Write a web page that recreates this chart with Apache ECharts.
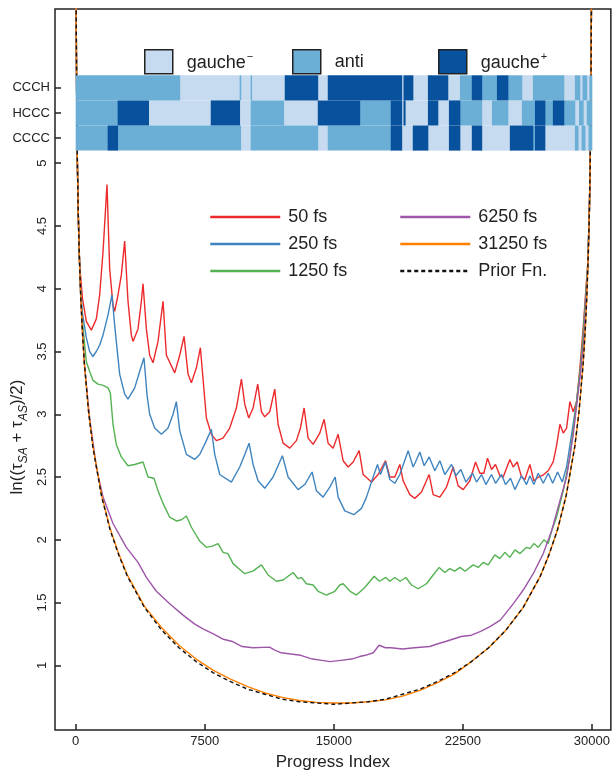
<!DOCTYPE html>
<html>
<head>
<meta charset="utf-8">
<script src="https://cdn.jsdelivr.net/npm/echarts@6/dist/echarts.min.js"></script>
<style>
  html, body { margin: 0; padding: 0; background: #fff; }
  #chart { width: 613px; height: 776px; }
</style>
</head>
<body>
<div id="chart"></div>
<script>
// tick labels
var xTicks = [0, 7500, 15000, 22500, 30000];
var yTicks = [1, 1.5, 2, 2.5, 3, 3.5, 4, 4.5, 5];
var rowNames = ['CCCC', 'HCCC', 'CCCH'];
var stateNames = ['gauche-', 'anti', 'gauche+'];

// dihedral states along the progress index (0 = gauche-, 1 = anti, 2 = gauche+)
var ccccCuts = [0, 1860, 2440, 9590, 10170, 14070, 14650, 18310, 18950, 19590, 20470, 21690, 22330, 23020, 23600, 25230, 26570, 26690, 27270, 29010, 29200, 29400, 29600, 29800, 30000];
var ccccStates = [1, 2, 1, 0, 1, 0, 1, 2, 0, 2, 0, 2, 0, 2, 0, 2, 1, 2, 0, 1, 0, 1, 0, 1];
var hcccCuts = [0, 2440, 4240, 7850, 9530, 10170, 12090, 14070, 16510, 18310, 18950, 19050, 19150, 20470, 21050, 21690, 22330, 23600, 24190, 25120, 25930, 26690, 27270, 27730, 28370, 29010, 29250, 29500, 29700, 30000];
var hcccStates = [1, 2, 0, 2, 0, 1, 0, 2, 1, 2, 0, 2, 0, 2, 0, 2, 1, 0, 1, 0, 1, 2, 1, 2, 1, 0, 1, 0, 1];
var ccchCuts = [0, 6050, 9530, 9600, 10170, 10230, 12150, 14070, 14650, 18950, 19050, 19600, 20470, 21630, 22330, 23020, 23600, 24480, 25120, 25930, 26570, 28370, 29010, 29300, 29450, 29700, 29850, 30000];
var ccchStates = [1, 0, 1, 0, 1, 0, 2, 0, 2, 0, 2, 0, 2, 0, 1, 2, 1, 2, 1, 0, 1, 0, 1, 0, 1, 0, 1];

// cut functions [progress index, ln value]
var fs50 = [[10,7.31],[30,6.22],[60,5.52],[100,5.01],[150,4.61],[233,4.19],[400,3.92],[620,3.74],[911,3.67],[1202,3.76],[1395,3.95],[1589,4.29],[1822,4.83],[1977,4.16],[2170,3.87],[2267,3.82],[2461,3.95],[2655,4.11],[2849,4.38],[3042,3.90],[3236,3.63],[3333,3.58],[3624,3.68],[3818,3.90],[3915,4.04],[4109,3.68],[4302,3.47],[4496,3.41],[4787,3.58],[5078,3.90],[5272,3.47],[5756,3.33],[6047,3.47],[6299,3.62],[6531,3.32],[6725,3.25],[7016,3.37],[7248,3.53],[7597,2.97],[7888,2.84],[8179,2.79],[8566,2.81],[8953,2.89],[9341,3.05],[9632,3.28],[9826,3.08],[10058,2.97],[10310,3.05],[10581,3.24],[10795,3.02],[10988,2.98],[11279,3.02],[11570,3.20],[11764,2.92],[12054,2.77],[12442,2.73],[12829,2.79],[13062,2.89],[13275,3.05],[13508,2.81],[13799,2.76],[14186,2.85],[14438,2.96],[14670,2.77],[14961,2.73],[15252,2.84],[15543,2.63],[15834,2.58],[16124,2.62],[16473,2.71],[16706,2.52],[17191,2.46],[17578,2.52],[18004,2.63],[18256,2.50],[18547,2.50],[18837,2.60],[19031,2.47],[19419,2.36],[19709,2.33],[20097,2.38],[20542,2.52],[20775,2.36],[21163,2.34],[21550,2.42],[21938,2.58],[22228,2.43],[22519,2.40],[22907,2.47],[23236,2.62],[23488,2.53],[23721,2.53],[23934,2.65],[24167,2.56],[24400,2.60],[24651,2.51],[24845,2.50],[25233,2.64],[25427,2.58],[25659,2.62],[25911,2.50],[26105,2.48],[26395,2.60],[26628,2.47],[26900,2.50],[27200,2.52],[27461,2.55],[27750,2.62],[27946,2.75],[28140,2.92],[28334,2.85],[28528,2.89],[28721,3.10],[28915,3.02],[29109,3.10],[29302,3.37],[29500,3.70],[29650,4.00],[29750,4.18],[29850,4.61],[29900,5.01],[29940,5.52],[29970,6.22],[29990,7.31]];
var fs250 = [[10,7.31],[30,6.22],[60,5.52],[100,5.01],[150,4.61],[200,4.32],[260,4.05],[400,3.80],[620,3.61],[814,3.50],[1000,3.46],[1200,3.50],[1395,3.55],[1589,3.63],[1880,3.79],[2110,3.95],[2267,3.71],[2558,3.32],[2849,3.16],[3042,3.12],[3430,3.21],[3720,3.34],[3970,3.45],[4150,3.15],[4302,3.00],[4593,2.89],[4981,2.84],[5369,2.89],[5659,3.00],[5853,3.10],[6047,2.87],[6434,2.68],[6919,2.64],[7209,2.68],[7597,2.79],[7888,2.88],[8082,2.68],[8373,2.52],[9050,2.46],[9535,2.58],[9826,2.68],[10077,2.77],[10310,2.60],[10601,2.47],[10988,2.41],[11473,2.50],[12015,2.67],[12345,2.50],[12926,2.40],[13314,2.44],[13740,2.54],[13992,2.39],[14380,2.34],[14768,2.42],[15080,2.50],[15252,2.34],[15640,2.23],[16163,2.20],[16609,2.25],[16900,2.34],[17288,2.50],[17540,2.60],[17714,2.52],[18004,2.62],[18256,2.48],[18547,2.45],[18837,2.52],[19321,2.71],[19612,2.58],[19750,2.62],[20000,2.70],[20252,2.59],[20542,2.66],[20872,2.55],[21163,2.63],[21454,2.52],[21841,2.60],[22093,2.51],[22384,2.56],[22675,2.46],[23062,2.53],[23294,2.46],[23585,2.52],[23837,2.44],[24167,2.52],[24400,2.45],[24748,2.52],[24980,2.44],[25270,2.49],[25524,2.40],[25911,2.51],[26200,2.44],[26395,2.51],[26628,2.44],[26880,2.53],[27171,2.45],[27461,2.53],[27720,2.45],[28005,2.54],[28276,2.46],[28528,2.58],[28818,2.84],[29109,3.10],[29302,3.32],[29500,3.62],[29650,3.95],[29750,4.15],[29850,4.61],[29900,5.01],[29940,5.52],[29970,6.22],[29990,7.31]];
var fs1250 = [[10,7.31],[30,6.22],[60,5.52],[100,5.01],[150,4.61],[200,4.32],[300,3.92],[420,3.70],[620,3.42],[814,3.34],[1008,3.27],[1298,3.24],[1600,3.23],[1880,3.21],[2015,3.17],[2170,2.92],[2364,2.76],[2655,2.66],[3042,2.59],[3430,2.60],[3915,2.62],[4205,2.50],[4554,2.49],[4787,2.39],[5078,2.29],[5466,2.18],[5853,2.15],[6150,2.16],[6434,2.19],[6725,2.10],[7209,1.99],[7597,1.94],[7950,1.95],[8276,1.97],[8566,1.90],[8850,1.89],[9147,1.81],[9826,1.73],[10300,1.75],[10795,1.80],[11182,1.72],[11667,1.67],[12054,1.68],[12635,1.74],[12926,1.69],[13120,1.70],[13411,1.65],[13800,1.64],[14089,1.59],[14574,1.56],[15059,1.59],[15349,1.64],[15543,1.65],[15950,1.59],[16318,1.56],[16800,1.62],[17346,1.71],[17650,1.67],[18024,1.70],[18250,1.67],[18547,1.70],[18850,1.67],[19186,1.70],[19520,1.64],[19903,1.61],[20385,1.65],[20775,1.72],[21124,1.78],[21450,1.74],[21740,1.77],[22030,1.75],[22330,1.78],[22620,1.75],[23101,1.80],[23390,1.78],[23682,1.82],[23970,1.80],[24361,1.88],[24650,1.85],[24942,1.90],[25230,1.86],[25524,1.92],[25820,1.89],[26202,1.94],[26400,1.93],[26628,1.97],[26880,1.94],[27209,2.00],[27461,1.97],[27655,2.07],[27946,2.18],[28334,2.39],[28721,2.66],[29109,3.10],[29400,3.45],[29600,3.85],[29750,4.18],[29850,4.61],[29900,5.01],[29940,5.52],[29970,6.22],[29990,7.31]];
var fs6250 = [[10,7.31],[30,6.22],[60,5.52],[100,5.01],[150,4.61],[200,4.32],[300,3.92],[400,3.66],[523,3.37],[814,2.97],[1202,2.58],[1589,2.34],[2170,2.13],[2946,1.94],[3624,1.82],[4109,1.70],[4690,1.59],[5466,1.49],[6241,1.40],[6900,1.33],[7400,1.29],[8000,1.25],[8535,1.21],[9100,1.19],[9674,1.15],[10300,1.14],[11262,1.145],[11600,1.12],[11948,1.10],[12500,1.09],[13082,1.08],[13762,1.05],[14300,1.04],[14785,1.03],[15400,1.04],[16035,1.05],[16500,1.07],[16832,1.08],[17300,1.10],[17628,1.16],[18000,1.14],[18314,1.14],[19000,1.13],[19675,1.14],[20582,1.15],[21000,1.17],[21495,1.19],[22401,1.23],[23000,1.24],[23535,1.27],[24100,1.31],[24675,1.36],[25427,1.49],[26008,1.60],[26589,1.73],[27171,1.89],[27655,2.07],[28140,2.31],[28528,2.50],[28915,2.84],[29302,3.29],[29500,3.55],[29650,3.90],[29750,4.15],[29850,4.61],[29900,5.01],[29940,5.52],[29970,6.22],[29990,7.31]];
var fs31250 = [[10,7.31],[30,6.22],[60,5.52],[100,5.01],[150,4.61],[200,4.32],[300,3.92],[400,3.64],[500,3.42],[750,3.02],[1000,2.75],[1500,2.36],[2000,2.09],[2500,1.89],[3000,1.72],[4000,1.47],[5000,1.30],[6000,1.16],[7000,1.05],[8000,0.96],[9000,0.89],[10000,0.83],[11000,0.78],[12000,0.745],[13000,0.72],[14000,0.705],[15000,0.70],[16000,0.70],[17000,0.71],[18000,0.725],[19000,0.755],[20000,0.80],[21000,0.86],[22000,0.93],[23000,1.03],[24000,1.14],[25000,1.28],[26000,1.46],[27000,1.71],[27500,1.88],[28000,2.08],[28500,2.35],[29000,2.74],[29250,3.02],[29500,3.42],[29600,3.64],[29700,3.92],[29800,4.32],[29850,4.61],[29900,5.01],[29940,5.52],[29970,6.22],[29990,7.31]];
var priorFn = [[5,8.00],[10,7.31],[30,6.22],[60,5.52],[100,5.01],[150,4.61],[200,4.32],[300,3.92],[400,3.64],[500,3.42],[750,3.02],[1000,2.74],[1500,2.35],[2000,2.08],[2500,1.88],[3000,1.71],[4000,1.46],[5000,1.28],[6000,1.14],[7000,1.03],[8000,0.94],[9000,0.87],[10000,0.81],[11000,0.77],[12000,0.73],[13000,0.71],[14000,0.70],[15000,0.69],[16000,0.70],[17000,0.71],[18000,0.73],[19000,0.77],[20000,0.81],[21000,0.87],[22000,0.94],[23000,1.03],[24000,1.14],[25000,1.28],[26000,1.46],[27000,1.71],[27500,1.88],[28000,2.08],[28500,2.35],[29000,2.74],[29250,3.02],[29500,3.42],[29600,3.64],[29700,3.92],[29800,4.32],[29850,4.61],[29900,5.01],[29940,5.52],[29970,6.22],[29990,7.31],[29995,8.00]];

var FONT = 'Liberation Sans, Arial, sans-serif';
var stateColors = ['#c6dbef', '#6baed6', '#08519c'];
var lineColors = ['#ec2a2c', '#3f84bf', '#55b252', '#9d56a8', '#ff7f00', '#111111'];

var chart = echarts.init(document.getElementById('chart'));

// segments per state: [start, end, rowCenter]
var rows = [[ccccCuts, ccccStates], [hcccCuts, hcccStates], [ccchCuts, ccchStates]];
var rowCenters = [5.2, 5.4, 5.6];
var segs = [[], [], []];
rows.forEach(function (r, ri) {
  var cuts = r[0], st = r[1];
  for (var i = 0; i < st.length; i++) {
    segs[st[i]].push([cuts[i], cuts[i + 1], rowCenters[ri]]);
  }
});

function renderSeg(params, api) {
  var c = api.value(2);
  var p0 = api.coord([api.value(0), c - 0.1]);
  var p1 = api.coord([api.value(1), c + 0.1]);
  return {
    type: 'rect',
    shape: { x: p0[0], y: p1[1], width: p1[0] - p0[0] + 0.4, height: p0[1] - p1[1] },
    style: { fill: api.visual('color') }
  };
}

var series = [];
var lineData = [fs50, fs250, fs1250, fs6250, fs31250, priorFn];
var lineNames = ['50 fs', '250 fs', '1250 fs', '6250 fs', '31250 fs', 'Prior Fn.'];
lineData.forEach(function (d, i) {
  series.push({
    name: lineNames[i],
    type: 'line',
    data: d,
    symbol: 'none',
    clip: true,
    z: i === 5 ? 4 : 3,
    lineStyle: { color: lineColors[i], width: i === 5 ? 1.4 : 1.4, type: i === 5 ? [4, 3] : 'solid' },
    itemStyle: { color: lineColors[i] }
  });
});
segs.forEach(function (s, k) {
  series.push({
    name: stateNames[k],
    type: 'custom',
    renderItem: renderSeg,
    data: s,
    encode: { x: [0, 1], y: 2 },
    z: 6,
    itemStyle: { color: stateColors[k] }
  });
});

function boxLegend(name, left) {
  return {
    data: [name], left: left, top: 44, icon: 'rect', itemWidth: 28, itemHeight: 24,
    itemStyle: { borderColor: '#222', borderWidth: 1.5 },
    formatter: function (n) {
      if (n === 'gauche-') return '{a|gauche}{s|−}';
      if (n === 'gauche+') return '{a|gauche}{s|+}';
      return '{a|' + n + '}';
    },
    textStyle: {
      fontFamily: FONT, fontSize: 18, color: '#222', padding: [0, 0, 0, 9],
      rich: {
        a: { fontFamily: FONT, fontSize: 18, color: '#222', verticalAlign: 'bottom' },
        s: { fontFamily: FONT, fontSize: 11, color: '#222', verticalAlign: 'bottom', padding: [0, 0, 9, 1] }
      }
    }
  };
}
function lineLegend(names, left) {
  return {
    data: names, left: left, top: 203, orient: 'vertical', itemWidth: 70, itemHeight: 14, itemGap: 9,
    lineStyle: { width: 2.5 },
    itemStyle: { opacity: 0 },
    textStyle: { fontFamily: FONT, fontSize: 18, color: '#222', padding: [0, 0, 0, 3] }
  };
}

var option = {
  animation: false,
  backgroundColor: '#fff',
  grid: { left: 55, right: 2, top: 9, bottom: 42, show: true, borderColor: '#222', borderWidth: 1.5, backgroundColor: 'transparent' },
  legend: [
    boxLegend(stateNames[0], 139),
    boxLegend(stateNames[1], 287),
    boxLegend(stateNames[2], 433),
    lineLegend(lineNames.slice(0, 3), 204),
    lineLegend(lineNames.slice(3), 394)
  ],
  xAxis: {
    type: 'value', min: -1200, max: 31100,
    name: 'Progress Index', nameLocation: 'middle', nameGap: 24,
    nameTextStyle: { fontFamily: FONT, fontSize: 17, color: '#222' },
    axisLine: { show: false, onZero: false },
    splitLine: { show: false },
    axisTick: { inside: true, length: 6, customValues: xTicks, lineStyle: { color: '#222', width: 1.5 } },
    axisLabel: { customValues: xTicks, fontFamily: FONT, fontSize: 13, color: '#222', margin: 5, formatter: function (v) { return String(v); } }
  },
  yAxis: [
    {
      type: 'value', min: 0.485, max: 6.228, position: 'left',
      axisLine: { show: false, onZero: false },
      splitLine: { show: false },
      axisTick: { inside: true, length: 6, customValues: yTicks, lineStyle: { color: '#222', width: 1.5 } },
      axisLabel: { customValues: yTicks, rotate: 90, fontFamily: FONT, fontSize: 13, color: '#222', margin: 6, formatter: function (v) { return String(v); } }
    },
    {
      type: 'value', min: 0.485, max: 6.228, position: 'left', offset: 0,
      axisLine: { show: false, onZero: false },
      splitLine: { show: false },
      axisTick: { inside: true, length: 6, customValues: rowCenters, lineStyle: { color: '#222', width: 1.5 } },
      axisLabel: {
        customValues: rowCenters, fontFamily: FONT, fontSize: 13, color: '#222', margin: 5,
        formatter: function (v) { return rowNames[Math.round((v - 5.2) / 0.2)]; }
      }
    }
  ],
  graphic: [{
    type: 'text', x: 19, y: 437, rotation: Math.PI / 2,
    style: {
      text: '{m|ln((τ}{s|SA}{m| + τ}{s|AS}{m|)/2)}',
      align: 'center', verticalAlign: 'middle',
      fontFamily: FONT, fill: '#222',
      rich: {
        m: { fontSize: 17, fontFamily: FONT, fill: '#222', verticalAlign: 'bottom', padding: [0, 0, 4, 0] },
        s: { fontSize: 12, fontFamily: FONT, fontStyle: 'italic', fill: '#222', verticalAlign: 'bottom' }
      }
    }
  }],
  series: series
};
chart.setOption(option);
</script>
</body>
</html>
